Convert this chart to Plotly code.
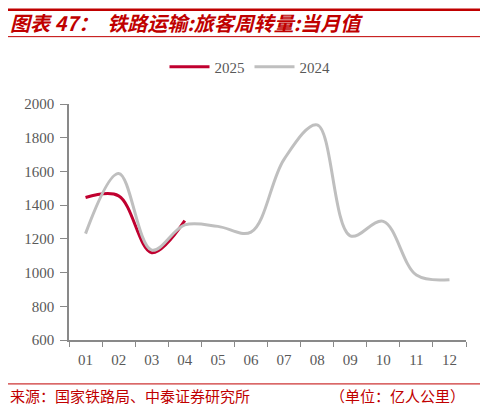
import plotly.graph_objects as go

months = ["01", "02", "03", "04", "05", "06", "07", "08", "09", "10", "11", "12"]
values_2025 = [1445, 1455, 1118, 1308]
values_2024 = [1231, 1588, 1133, 1283, 1274, 1240, 1672, 1876, 1218, 1304, 985, 958]

RED = "#C00000"
LINE_RED = "#C0002F"
GRAY_LINE = "#BFBFBF"
TEXT_GRAY = "#595959"

# the page body has an 8px margin, so the figure sits at (8, 8) in the 488x408 window
OFF = 8
W, H = 488 - OFF, 408 - OFF
# plot area, in window pixels
L, R, T, B = 69, 466, 103.5, 340


def px(x):
    return (x - L) / (R - L)


def py(y):
    return (B - y) / (B - T)


fig = go.Figure()
fig.add_trace(go.Scatter(
    x=months[:len(values_2025)], y=values_2025, name="2025", mode="lines",
    line=dict(color=LINE_RED, width=3, shape="spline", smoothing=1.0),
))
fig.add_trace(go.Scatter(
    x=months, y=values_2024, name="2024", mode="lines",
    line=dict(color=GRAY_LINE, width=3, shape="spline", smoothing=1.0),
))

shapes = [
    dict(type="line", xref="paper", yref="paper", x0=px(OFF), x1=px(483), y0=py(9), y1=py(9),
         line=dict(color=RED, width=2.5)),
    dict(type="line", xref="paper", yref="paper", x0=px(OFF), x1=px(483), y0=py(36), y1=py(36),
         line=dict(color=RED, width=1)),
    dict(type="line", xref="paper", yref="paper", x0=px(OFF), x1=px(483), y0=py(384), y1=py(384),
         line=dict(color=RED, width=1)),
]

annotations = [
    dict(text="<b><i>图表 47：  铁路运输:旅客周转量:当月值</i></b>", xref="paper", yref="paper",
         x=px(OFF), y=py(22), xanchor="left", yanchor="middle", showarrow=False,
         font=dict(family="Noto Sans CJK SC", size=20, color=RED)),
    dict(text="来源：国家铁路局、中泰证券研究所", xref="paper", yref="paper",
         x=px(OFF), y=py(396), xanchor="left", yanchor="middle", showarrow=False,
         font=dict(family="Noto Sans CJK SC", size=15, color=RED)),
    dict(text="（单位：亿人公里）", xref="paper", yref="paper",
         x=px(467), y=py(396), xanchor="right", yanchor="middle", showarrow=False,
         font=dict(family="Noto Sans CJK SC", size=15, color=RED)),
]

fig.update_layout(
    width=W, height=H,
    margin=dict(l=L - OFF, r=488 - R, t=T - OFF, b=408 - B, autoexpand=False),
    plot_bgcolor="white", paper_bgcolor="white",
    font=dict(family="Liberation Serif", size=15, color=TEXT_GRAY),
    showlegend=True,
    legend=dict(orientation="h", x=(250 - OFF) / W, xanchor="center", xref="container",
                y=1 - (67 - OFF) / H, yanchor="middle", yref="container",
                font=dict(family="Liberation Serif", size=15, color=TEXT_GRAY),
                itemwidth=40, tracegroupgap=0),
    shapes=shapes,
    annotations=annotations,
    xaxis=dict(
        type="category", categoryorder="array", categoryarray=months,
        range=[-0.5, 11.5],
        showline=True, linecolor="#898989", linewidth=1.5,
        ticks="outside", tickson="boundaries", ticklen=5, tickcolor="#898989",
        ticklabelstandoff=5,
        showgrid=False, zeroline=False,
        tickfont=dict(family="Liberation Serif", size=15, color=TEXT_GRAY),
    ),
    yaxis=dict(
        range=[600, 2000], dtick=200,
        showline=True, linecolor="#898989", linewidth=1.5,
        ticks="outside", ticklen=7, tickcolor="#898989",
        ticklabelstandoff=3,
        showgrid=False, zeroline=False,
        tickfont=dict(family="Liberation Serif", size=15, color=TEXT_GRAY),
    ),
)

fig.write_html("out.html")
